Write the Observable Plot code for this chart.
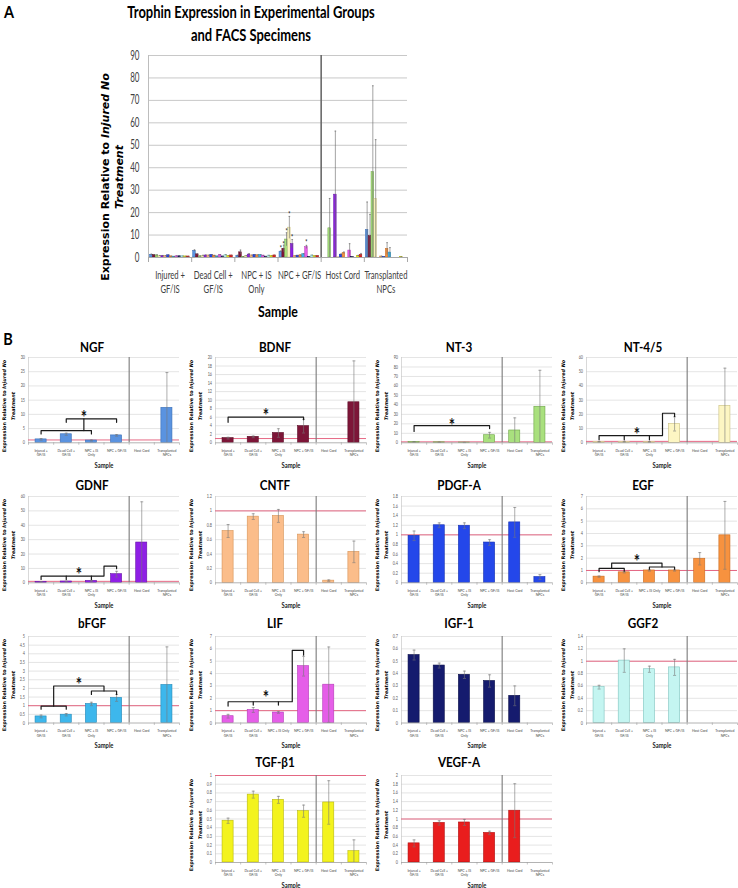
<!DOCTYPE html>
<html><head><meta charset="utf-8">
<script src="https://cdn.jsdelivr.net/npm/d3@7"></script>
<script src="https://cdn.jsdelivr.net/npm/@observablehq/plot@0.6"></script>
<style>
html,body{margin:0;padding:0;background:#fff;}
#root{position:relative;width:738px;height:888px;overflow:hidden;background:#fff;}
#root svg{position:absolute;overflow:visible;}
</style></head>
<body><div id="root"></div>
<script>
// ---------- categories ----------
const groupLabels = ["Injured +\nGF/IS","Dead Cell +\nGF/IS","NPC + IS\nOnly","NPC + GF/IS","Host Cord","Transplanted\nNPCs"];
const groupLabelsAlt = ["Injured +\nGF/IS","Dead Cell +\nGF/IS","NPC + IS Only","NPC + GF/IS","Host Cord","Transplanted\nNPCs"];
const trophins = ["NGF","BDNF","NT-3","NT-4/5","GDNF","CNTF","PDGF-A","EGF","bFGF","LIF","IGF-1","GGF2","TGF-β1","VEGF-A"];
const fills   = ["#5a93e0","#7d1538","#a9e07e","#fdf6c3","#8f1fe6","#fbbd8a","#2447ea","#f7923f","#3db7ec","#e55ee8","#151b6e","#c4f5f1","#f3f31d","#e91d1d"];
const strokes = ["#3b6fb6","#5a0c25","#6ea548","#c9bf80","#6413a6","#d69356","#1530b0","#c96a1f","#2389b8","#b53bb8","#0b0f48","#7fc4bf","#b8b810","#b01010"];

// ---------- values (order: Injured, Dead Cell, NPC+IS, NPC+GF/IS, Host Cord, Transplanted) ----------
const NGF_val   = [1.2, 3.0, 0.8, 2.6, null, 12.3];
const NGF_err   = [0.3, 0.4, 0.2, 0.3, null, 12.4];
const BDNF_val  = [1.1, 1.4, 2.3, 3.9, null, 9.5];
const BDNF_err  = [0.2, 0.2, 1.0, 1.6, null, 9.7];
const NT3_val   = [0.9, 0.5, 0.3, 8.0, 13.0, 38.0];
const NT3_err   = [0.3, 0.2, 0.1, 3.0, 13.3, 38.5];
const NT45_val  = [0.7, 0.7, 0.6, 13.3, null, 26.0];
const NT45_err  = [0.2, 0.3, 0.3, 5.0, null, 26.5];
const GDNF_val  = [0.7, 0.9, 1.3, 6.0, 28.0, null];
const GDNF_err  = [0.2, 0.2, 0.4, 2.0, 28.3, null];
const CNTF_val  = [0.72, 0.92, 0.93, 0.67, 0.03, 0.43];
const CNTF_err  = [0.09, 0.04, 0.09, 0.04, 0.01, 0.15];
const PDGFA_val = [0.98, 1.20, 1.19, 0.84, 1.26, 0.12];
const PDGFA_err = [0.10, 0.05, 0.06, 0.06, 0.31, 0.05];
const EGF_val   = [0.5, 0.85, 1.0, 1.0, 1.95, 3.85];
const EGF_err   = [0.05, 0.05, 0.05, 0.05, 0.5, 2.75];
const bFGF_val  = [0.38, 0.48, 1.10, 1.45, null, 2.2];
const bFGF_err  = [0.08, 0.07, 0.1, 0.2, null, 2.2];
const LIF_val   = [0.55, 1.05, 0.85, 4.6, 3.1, null];
const LIF_err   = [0.15, 0.2, 0.07, 0.8, 3.05, null];
const IGF1_val  = [0.55, 0.465, 0.39, 0.34, 0.22, null];
const IGF1_err  = [0.04, 0.02, 0.03, 0.05, 0.08, null];
const GGF2_val  = [0.58, 1.01, 0.87, 0.90, null, null];
const GGF2_err  = [0.03, 0.19, 0.05, 0.13, null, null];
const TGFB1_val = [0.48, 0.78, 0.72, 0.59, 0.69, 0.13];
const TGFB1_err = [0.03, 0.04, 0.04, 0.07, 0.25, 0.13];
const VEGFA_val = [0.44, 0.91, 0.92, 0.68, 1.19, null];
const VEGFA_err = [0.08, 0.05, 0.07, 0.04, 0.62, null];

// ---------- significance brackets (category index, value) ----------
const NGF_brackets  = [[[0,3.1],[0,4.3],[2,4.3],[2,3.1]], [[1.7,4.3],[1.7,8.4]], [[1,7.2],[1,8.4],[3,8.4],[3,7.2]]];
const NGF_stars     = [[1.7, 10.2]];
const BDNF_brackets = [[[0,4.8],[0,6.0],[3,6.0],[3,5.4]]];
const BDNF_stars    = [[1.5, 7.2]];
const NT3_brackets  = [[[0,12],[0,18.2],[3,18.2],[3,15]]];
const NT3_stars     = [[1.5, 22.5]];
const NT45_brackets = [[[0,2.1],[0,5.1],[2.52,5.1],[2.52,20.8],[3,20.8],[3,18.5]], [[1,5.1],[1,2.1]], [[2,5.1],[2,2.1]]];
const NT45_stars    = [[1.5, 8.6]];
const GDNF_brackets = [[[0,2.3],[0,4.7],[2.5,4.7],[2.5,11.6],[3,11.6],[3,9.8]], [[1,4.7],[1,2.3]], [[2,4.7],[2,2.3]]];
const GDNF_stars    = [[1.5, 8.6]];
const EGF_brackets  = [[[0,0.9],[0,1.17],[1,1.17],[1,0.95]], [[2,1.1],[2,1.28],[3,1.28],[3,1.1]], [[0.5,1.17],[0.5,1.6],[2.5,1.6],[2.5,1.28]]];
const EGF_stars     = [[1.5, 2.0]];
const bFGF_brackets = [[[0,0.8],[0,0.97],[1,0.97],[1,0.8]], [[2,1.65],[2,1.85],[3,1.85],[3,1.65]], [[0.5,0.97],[0.5,2.14],[2.5,2.14],[2.5,1.85]]];
const bFGF_stars    = [[1.5, 2.42]];
const LIF_brackets  = [[[0,1.37],[0,1.72],[2.55,1.72],[2.55,5.87],[3,5.87],[3,5.5]], [[1,1.72],[1,1.45]], [[2,1.72],[2,1.45]]];
const LIF_stars     = [[1.5, 2.35]];
// panel A stars: [group, trophin index, value]
const A_stars = [[3,0,4.5],[3,1,6.4],[3,2,12.5],[3,3,19.9],[3,4,9.4],[3,9,7.2]];

// ---------- axis settings ----------
const A_yMax = 90, A_yStep = 10;
const panels = [
  {name:"NGF",    val:NGF_val,   err:NGF_err,   max:30,  step:5,   br:NGF_brackets,  st:NGF_stars,  col:0,row:0},
  {name:"BDNF",   val:BDNF_val,  err:BDNF_err,  max:20,  step:2,   br:BDNF_brackets, st:BDNF_stars, col:1,row:0},
  {name:"NT-3",   val:NT3_val,   err:NT3_err,   max:90,  step:10,  br:NT3_brackets,  st:NT3_stars,  col:2,row:0},
  {name:"NT-4/5", val:NT45_val,  err:NT45_err,  max:60,  step:10,  br:NT45_brackets, st:NT45_stars, col:3,row:0},
  {name:"GDNF",   val:GDNF_val,  err:GDNF_err,  max:60,  step:10,  br:GDNF_brackets, st:GDNF_stars, col:0,row:1},
  {name:"CNTF",   val:CNTF_val,  err:CNTF_err,  max:1.2, step:0.2, br:[], st:[], col:1,row:1},
  {name:"PDGF-A", val:PDGFA_val, err:PDGFA_err, max:1.8, step:0.2, br:[], st:[], col:2,row:1},
  {name:"EGF",    val:EGF_val,   err:EGF_err,   max:7,   step:1,   br:EGF_brackets,  st:EGF_stars,  col:3,row:1, alt:true},
  {name:"bFGF",   val:bFGF_val,  err:bFGF_err,  max:5,   step:0.5, br:bFGF_brackets, st:bFGF_stars, col:0,row:2},
  {name:"LIF",    val:LIF_val,   err:LIF_err,   max:7,   step:1,   br:LIF_brackets,  st:LIF_stars,  col:1,row:2, alt:true},
  {name:"IGF-1",  val:IGF1_val,  err:IGF1_err,  max:0.7, step:0.1, br:[], st:[], col:2,row:2},
  {name:"GGF2",   val:GGF2_val,  err:GGF2_err,  max:1.4, step:0.2, br:[], st:[], col:3,row:2},
  {name:"TGF-β1", val:TGFB1_val, err:TGFB1_err, max:1,   step:0.1, br:[], st:[], col:1,row:3},
  {name:"VEGF-A", val:VEGFA_val, err:VEGFA_err, max:2,   step:0.2, br:[], st:[], col:2,row:3}
];

// ---------- layout ----------
const colLeft = [27.5, 214.5, 400.5, 586];
const plotW = 151;
const rowTop = [357, 496, 635.5, 775];
const rowBot = [442.3, 582.3, 722, 862];
const titleX = [92, 275, 459, 643];
const titleY = [348, 486, 624, 763];

const root = document.getElementById("root");
const fmt = d3.format("~g");

function htmlText(html, x, y, o = {}) {
  const d = document.createElement("div");
  d.innerHTML = html;
  Object.assign(d.style, {
    position: "absolute", left: x + "px", top: y + "px", whiteSpace: "nowrap", lineHeight: "1.2",
    fontFamily: o.family || "Lato", fontSize: (o.size || 12) + "px", fontWeight: o.weight || "bold",
    color: o.color || "#000",
    transform: `translate(-50%,-50%)${o.rotate ? ` rotate(${o.rotate}deg)` : ""} scaleX(${o.sx || 1})`
  });
  root.appendChild(d);
}
function squeeze(svg, sx) {
  svg.querySelectorAll("text").forEach(t => {
    if (t.hasAttribute("x") && !t.hasAttribute("transform")) return;
    const tr = t.getAttribute("transform") || "";
    t.setAttribute("transform", tr + ` scale(${sx},1)`);
  });
}
function ticksOf(max, step) {
  return d3.range(0, Math.round(max / step) + 1).map(i => +(i * step).toFixed(3));
}
function bracketPoints(br) {
  const pts = [];
  br.forEach((path, id) => path.forEach(p => pts.push({x: p[0] + 0.5, y: p[1], id})));
  return pts;
}

// ---------- Panel A ----------
(function () {
  const L = 148, R = 407, T = 55, B = 257;
  const mL = L, mR = 20, mT = T, H = 330;
  const yTicks = ticksOf(A_yMax, A_yStep);
  const bw = 0.066;
  const bars = [];
  trophins.forEach((t, k) => {
    const vals = panels[k].val, errs = panels[k].err;
    vals.forEach((v, g) => { if (v != null) bars.push({g, k, v, e: errs[g], x1: g + 0.035 + k * bw, x2: g + 0.035 + k * bw + 0.06}); });
  });
  const starRows = A_stars.map(([g, k, y]) => ({x: g + 0.035 + k * bw + 0.03, y}));
  const svg = Plot.plot({
    width: R + mR, height: H, marginLeft: mL, marginRight: mR, marginTop: mT, marginBottom: H - B,
    style: {background: "transparent", fontFamily: "Lato"},
    x: {type: "linear", domain: [0, 6], axis: null},
    y: {type: "linear", domain: [0, A_yMax], axis: null},
    marks: [
      Plot.ruleY(yTicks.filter(d => d > 0), {stroke: "#c8c8c8", strokeWidth: 1}),
      Plot.ruleX([0], {stroke: "#bdbdbd", strokeWidth: 1}),
      Plot.rect(bars, {x1: "x1", x2: "x2", y1: () => 0, y2: "v", fill: d => fills[d.k], stroke: d => strokes[d.k], strokeWidth: 0.5}),
      Plot.ruleX(bars.filter(d => d.e != null), {x: d => (d.x1 + d.x2) / 2, y1: d => Math.max(0, d.v - d.e), y2: d => d.v + d.e, stroke: "#666", strokeWidth: 0.6}),
      Plot.link(bars.filter(d => d.e != null), {x1: d => d.x1 + 0.01, x2: d => d.x2 - 0.01, y1: d => d.v + d.e, y2: d => d.v + d.e, stroke: "#666", strokeWidth: 0.6}),
      Plot.ruleX([4], {stroke: "#6a6a6a", strokeWidth: 1.6}),
      Plot.ruleY([0], {stroke: "#a8a8a8", strokeWidth: 1}),
      Plot.ruleX(d3.range(7), {y1: () => 0, y2: () => -A_yMax * 5 / (B - T), stroke: "#a8a8a8", strokeWidth: 1}),
      Plot.text(starRows, {x: "x", y: "y", text: () => "*", fontSize: 8, fontWeight: "bold", dy: 1.5, fill: "#222"}),
      Plot.text(yTicks, {x: () => 0, y: d => d, text: d => fmt(d), textAnchor: "end", dx: -9, fontSize: 12.5, fill: "#404040"}),
      Plot.text(groupLabels, {x: (d, i) => i + 0.5, y: () => 0, text: d => d, lineAnchor: "top", dy: 12, fontSize: 12, lineHeight: 1.15, fill: "#404040"})
    ]
  });
  squeeze(svg, 0.64);
  svg.style.left = "0px"; svg.style.top = "0px";
  root.appendChild(svg);
  htmlText("A", 9, 12, {size: 17, sx: 0.85});
  htmlText("Trophin Expression in Experimental Groups", 251, 11, {size: 17.5, sx: 0.74});
  htmlText("and FACS Specimens", 251, 34, {size: 17.5, sx: 0.74});
  htmlText("Expression Relative to <i>Injured No</i>", 106, 177, {family: "DejaVu Sans", size: 11, rotate: -90});
  htmlText("<i>Treatment</i>", 120, 177, {family: "DejaVu Sans", size: 11, rotate: -90});
  htmlText("Sample", 277.5, 312, {size: 14.5, sx: 0.85});
})();

// ---------- Panel B ----------
htmlText("B", 8, 339, {size: 17, sx: 0.85});
panels.forEach(p => {
  const L = colLeft[p.col], T = rowTop[p.row], B = rowBot[p.row];
  const mL = 34, mR = 6, mT = 8, mB = 30;
  const ph = B - T;
  const yTicks = ticksOf(p.max, p.step);
  const rows = p.val.map((v, i) => ({i, v, e: p.err[i]})).filter(d => d.v != null);
  const erows = rows.filter(d => d.e != null);
  const hw = 0.22, cap = 0.06;
  const labels = p.alt ? groupLabelsAlt : groupLabels;
  const k = trophins.indexOf(p.name);
  const marks = [
    Plot.ruleY(yTicks.filter(d => d > 0), {stroke: "#d9d9d9", strokeWidth: 0.7}),
    Plot.ruleX([0], {stroke: "#c8c8c8", strokeWidth: 0.7})
  ];
  if (p.max >= 1) marks.push(Plot.ruleY([1], {stroke: "#e35877", strokeWidth: 0.9}));
  marks.push(
    Plot.rect(rows, {x1: d => d.i + 0.5 - hw, x2: d => d.i + 0.5 + hw, y1: () => 0, y2: "v", fill: fills[k], stroke: strokes[k], strokeWidth: 0.6}),
    Plot.ruleX(erows, {x: d => d.i + 0.5, y1: d => Math.max(0, d.v - d.e), y2: d => d.v + d.e, stroke: "#777", strokeWidth: 0.6}),
    Plot.link(erows, {x1: d => d.i + 0.5 - cap, x2: d => d.i + 0.5 + cap, y1: d => d.v + d.e, y2: d => d.v + d.e, stroke: "#777", strokeWidth: 0.6}),
    Plot.link(erows.filter(d => d.v - d.e > 0), {x1: d => d.i + 0.5 - cap, x2: d => d.i + 0.5 + cap, y1: d => d.v - d.e, y2: d => d.v - d.e, stroke: "#777", strokeWidth: 0.6}),
    Plot.ruleX([4], {stroke: "#7a7a7a", strokeWidth: 1.1}),
    Plot.ruleY([0], {stroke: "#a0a0a0", strokeWidth: 0.8}),
    Plot.ruleX(d3.range(7), {y1: () => 0, y2: () => -p.max * 2.5 / ph, stroke: "#a0a0a0", strokeWidth: 0.6}),
    Plot.line(bracketPoints(p.br), {x: "x", y: "y", z: "id", stroke: "#1a1a1a", strokeWidth: 1.2}),
    Plot.text(p.st, {x: d => d[0] + 0.5, y: d => d[1], text: () => "*", fontSize: 19, fontWeight: "bold", dy: 4, fill: "#111"}),
    Plot.text(yTicks, {x: () => 0, y: d => d, text: d => fmt(d), textAnchor: "end", dx: -3.5, fontSize: 4.8, fill: "#595959"}),
    Plot.text(labels, {x: (d, i) => i + 0.5, y: () => 0, text: d => d, lineAnchor: "top", dy: 5.8, fontSize: 4.4, lineHeight: 1.05, fill: "#404040"}),
    Plot.text(["Sample"], {x: () => 3, y: () => 0, text: d => d, dy: 23, fontSize: 7.5, fontWeight: "bold", fill: "#222"})
  );
  const svg = Plot.plot({
    width: plotW + mL + mR, height: ph + mT + mB,
    marginLeft: mL, marginRight: mR, marginTop: mT, marginBottom: mB,
    style: {background: "transparent", fontFamily: "Lato"},
    x: {type: "linear", domain: [0, 6], axis: null},
    y: {type: "linear", domain: [0, p.max], axis: null},
    marks
  });
  squeeze(svg, 0.78);
  svg.style.left = (L - mL) + "px"; svg.style.top = (T - mT) + "px";
  root.appendChild(svg);
  htmlText(p.name, titleX[p.col], titleY[p.row], {size: 13, sx: 0.9});
  const cy = (T + B) / 2 + 6;
  htmlText("Expression Relative to <i>Injured No</i>", L - 22.5, cy, {family: "DejaVu Sans", size: 4.9, rotate: -90});
  htmlText("<i>Treatment</i>", L - 13.5, cy, {family: "DejaVu Sans", size: 4.9, rotate: -90});
});
</script>
</body></html>
